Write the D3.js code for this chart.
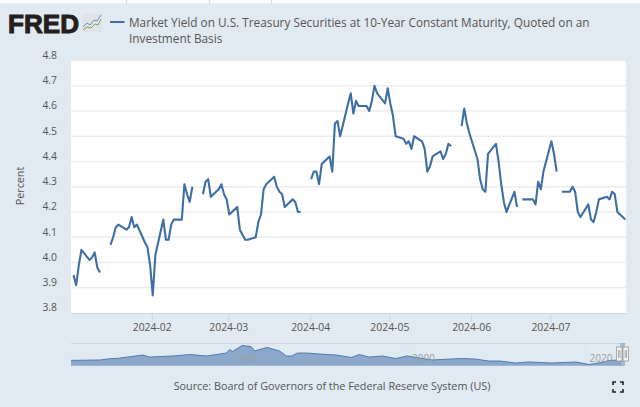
<!DOCTYPE html>
<html>
<head>
<meta charset="utf-8">
<script src="https://d3js.org/d3.v7.min.js"></script>
<style>
html, body { margin: 0; padding: 0; background: #e1e9f1; overflow: hidden; }
svg { display: block; }
text { font-family: "Open Sans", sans-serif; fill: #555; }
</style>
</head>
<body>
<svg width="640" height="407"></svg>
<script>
var seriesName = ["Market Yield on U.S. Treasury Securities at 10-Year Constant Maturity, Quoted on an", "Investment Basis"];
var sourceText = "Source: Board of Governors of the Federal Reserve System (US)";
var yTicks = [3.8, 3.9, 4.0, 4.1, 4.2, 4.3, 4.4, 4.5, 4.6, 4.7, 4.8];
var xTicks = ["2024-02-01", "2024-03-01", "2024-04-01", "2024-05-01", "2024-06-01", "2024-07-01"];

var dates = [
    "01-02","01-03","01-04","01-05","01-08","01-09","01-10","01-11","01-12","01-15","01-16","01-17","01-18","01-19",
    "01-22","01-23","01-24","01-25","01-26","01-29","01-30","01-31","02-01","02-02","02-05","02-06","02-07","02-08","02-09",
    "02-12","02-13","02-14","02-15","02-16","02-19","02-20","02-21","02-22","02-23","02-26","02-27","02-28","02-29","03-01",
    "03-04","03-05","03-06","03-07","03-08","03-11","03-12","03-13","03-14","03-15","03-18","03-19","03-20","03-21","03-22",
    "03-25","03-26","03-27","03-28","03-29","04-01","04-02","04-03","04-04","04-05","04-08","04-09","04-10","04-11","04-12",
    "04-15","04-16","04-17","04-18","04-19","04-22","04-23","04-24","04-25","04-26","04-29","04-30","05-01","05-02","05-03",
    "05-06","05-07","05-08","05-09","05-10","05-13","05-14","05-15","05-16","05-17","05-20","05-21","05-22","05-23","05-24",
    "05-27","05-28","05-29","05-30","05-31","06-03","06-04","06-05","06-06","06-07","06-10","06-11","06-12","06-13","06-14",
    "06-17","06-18","06-19","06-20","06-21","06-24","06-25","06-26","06-27","06-28","07-01","07-02","07-03","07-04","07-05",
    "07-08","07-09","07-10","07-11","07-12","07-15","07-16","07-17","07-18","07-19","07-22","07-23","07-24","07-25","07-26","07-29"
];
var yields = [
    3.95,3.91,3.99,4.05,4.01,4.02,4.04,3.98,3.96,null,4.07,4.10,4.14,4.15,
    4.13,4.14,4.18,4.14,4.15,4.08,4.06,3.99,3.87,4.03,4.17,4.09,4.09,4.15,4.17,
    4.17,4.31,4.27,4.24,4.30,null,4.27,4.32,4.33,4.26,4.29,4.31,4.27,4.25,4.19,
    4.22,4.13,4.11,4.09,4.09,4.10,4.16,4.19,4.29,4.31,4.34,4.30,4.28,4.27,4.22,
    4.25,4.24,4.20,4.20,null,4.33,4.36,4.36,4.31,4.39,4.42,4.36,4.55,4.56,4.50,
    4.63,4.67,4.59,4.64,4.62,4.62,4.60,4.64,4.70,4.67,4.63,4.69,4.63,4.58,4.50,
    4.49,4.47,4.48,4.45,4.50,4.48,4.45,4.36,4.38,4.42,4.44,4.41,4.43,4.47,4.46,
    null,4.54,4.61,4.55,4.51,4.41,4.33,4.29,4.28,4.43,4.47,4.40,4.31,4.24,4.20,
    4.28,4.22,null,4.25,4.25,4.25,4.23,4.32,4.29,4.36,4.48,4.43,4.36,null,4.28,
    4.28,4.30,4.28,4.20,4.18,4.23,4.17,4.16,4.20,4.25,4.26,4.25,4.28,4.27,4.20,4.17
];

// overview strip, long history of the same series
var navYears = [1962,1965.3,1966.4,1967.2,1970.1,1970.9,1973.5,1975.4,1977.3,1979.5,1979.9,1980.2,1981.3,1982.3,1982.7,1984.1,1985.5,1986.3,1986.9,1987.5,1988.6,1990,1991.9,1993.6,1994.5,1995.6,1997.1,1998.6,1999.9,2002.7,2006,2007.6,2009.1,2010.4,2012.1,2013.6,2016.2,2018.9,2020.4,2021.8,2022.6,2024];
var navValues = [4.6,4.9,5.9,6.1,8.6,7.1,7.9,9.0,7.9,10.1,12.8,11.3,15.8,15.0,11.7,14.3,11.7,7.9,7.9,10.1,10.1,9.4,8.6,6.8,9.0,7.1,7.9,6.0,7.9,4.9,6.0,5.6,4.1,4.1,2.6,3.4,2.6,3.4,1.5,3.0,4.5,4.9];
var navLabels = [1980, 2000, 2020];

var parse = d3.utcParse("%Y-%m-%d");
var data = dates.map(function (d, i) { return { date: parse("2024-" + d), value: yields[i] }; });
var nav = navYears.map(function (d, i) { return { year: d, value: navValues[i] }; });

var svg = d3.select("svg");
var margin = { left: 71, right: 626, top: 60.5, bottom: 313 };

// white strip at the very top of the screenshot
svg.append("rect").attr("width", 640).attr("height", 3.5).attr("fill", "#fbfcfd");
svg.selectAll(".topline")
    .data([126, 209, 271])
    .enter().append("rect")
    .attr("x", function (d) { return d; })
    .attr("width", 1).attr("height", 4)
    .attr("fill", "#d5dade");

svg.append("rect")
    .attr("x", margin.left).attr("y", margin.top)
    .attr("width", margin.right - margin.left)
    .attr("height", margin.bottom - margin.top)
    .attr("fill", "#fff");

var x = d3.scaleUtc()
    .domain([parse("2024-01-01"), parse("2024-07-29")])
    .range([70.9, 625.3]);
var y = d3.scaleLinear().domain([3.8, 4.8]).range([margin.bottom, margin.top]);

// grid
svg.append("g").selectAll("line")
    .data(yTicks.slice(1))
    .enter().append("line")
    .attr("x1", margin.left).attr("x2", margin.right)
    .attr("y1", function (d) { return y(d); })
    .attr("y2", function (d) { return y(d); })
    .attr("stroke", "#ececec").attr("stroke-width", 1.4);

svg.append("line")
    .attr("x1", margin.left).attr("x2", margin.right)
    .attr("y1", margin.bottom + 0.5).attr("y2", margin.bottom + 0.5)
    .attr("stroke", "#cbd8ea").attr("stroke-width", 1.2);

// x axis
var xAxis = svg.append("g")
    .attr("transform", "translate(-1," + margin.bottom + ")")
    .call(d3.axisBottom(x)
        .tickValues(xTicks.map(parse))
        .tickSize(9)
        .tickPadding(2)
        .tickFormat(d3.utcFormat("%Y-%m")));
xAxis.select(".domain").remove();
xAxis.selectAll("line").attr("stroke", "#cbd8ea");
xAxis.selectAll("text").attr("font-size", 10.4).attr("fill", "#555")
    .style("font-family", '"Open Sans", sans-serif');

// y axis
var yAxis = svg.append("g")
    .attr("transform", "translate(" + (margin.left - 14) + ",0)")
    .call(d3.axisLeft(y).tickValues(yTicks).tickSize(0).tickPadding(0).tickFormat(d3.format(".1f")));
yAxis.select(".domain").remove();
yAxis.selectAll("text").attr("font-size", 10.4).attr("fill", "#555").attr("dy", "-0.2em")
    .style("font-family", '"Open Sans", sans-serif');

svg.append("text")
    .attr("transform", "translate(24,186) rotate(-90)")
    .attr("text-anchor", "middle")
    .attr("font-size", 10.8)
    .text("Percent");

// series
var line = d3.line()
    .defined(function (d) { return d.value !== null; })
    .x(function (d) { return x(d.date); })
    .y(function (d) { return y(d.value); });

svg.append("path")
    .datum(data)
    .attr("d", line)
    .attr("fill", "none")
    .attr("stroke", "#3e6ea6")
    .attr("stroke-width", 2.1)
    .attr("stroke-linejoin", "round");

// header
svg.append("text")
    .attr("x", 8).attr("y", 33)
    .attr("font-size", 26.5)
    .attr("font-weight", 900)
    .attr("textLength", 71)
    .attr("lengthAdjust", "spacingAndGlyphs")
    .style("font-family", '"Liberation Sans", sans-serif')
    .style("fill", "#231f20")
    .style("stroke", "#231f20")
    .style("stroke-width", 1)
    .text("FRED");

var logo = svg.append("g").attr("transform", "translate(83,14)");
logo.append("rect").attr("width", 19).attr("height", 18).attr("fill", "#dfe3e6");
var logoBlue = [[0, 13], [4, 9], [7, 11], [11, 6], [14, 7], [18, 1]];
var logoGreen = [[0, 16], [4, 13], [8, 14], [12, 10], [15, 11], [18, 5]];
logo.append("path").attr("d", d3.line()(logoBlue)).attr("fill", "none").attr("stroke", "#6d8fb8").attr("stroke-width", 1);
logo.append("path").attr("d", d3.line()(logoGreen)).attr("fill", "none").attr("stroke", "#7da35c").attr("stroke-width", 1);

svg.append("line")
    .attr("x1", 110).attr("x2", 124.5).attr("y1", 22).attr("y2", 22)
    .attr("stroke", "#3e6ea6").attr("stroke-width", 2);

svg.selectAll(".legend")
    .data(seriesName)
    .enter().append("text")
    .attr("class", "legend")
    .attr("x", 129)
    .attr("y", function (d, i) { return 27 + i * 15.5; })
    .attr("font-size", 11.8)
    .text(function (d) { return d; });

// navigator
var navX = d3.scaleLinear().domain([1962, 2024]).range([71, 621]);
var navY = d3.scaleLinear().domain([0.6, 15.8]).range([365.7, 345.5]);

svg.append("line")
    .attr("x1", 71).attr("x2", 626).attr("y1", 343.5).attr("y2", 343.5)
    .attr("stroke", "#cfd3d8").attr("stroke-width", 1);

svg.selectAll(".navtick")
    .data(navLabels)
    .enter().append("line")
    .attr("x1", function (d) { return navX(d); })
    .attr("x2", function (d) { return navX(d); })
    .attr("y1", 344).attr("y2", 366)
    .attr("stroke", "#dce3ea").attr("stroke-width", 0.6);

svg.append("path")
    .datum(nav)
    .attr("d", d3.area()
        .x(function (d) { return navX(d.year); })
        .y0(navY(0.6))
        .y1(function (d) { return navY(d.value); }))
    .attr("fill", "#8ba8ca");

svg.append("path")
    .datum(nav)
    .attr("d", d3.line()
        .x(function (d) { return navX(d.year); })
        .y(function (d) { return navY(d.value); }))
    .attr("fill", "none")
    .attr("stroke", "#4f7cb0")
    .attr("stroke-width", 1);

svg.selectAll(".navlabel")
    .data(navLabels)
    .enter().append("text")
    .attr("class", "navlabel")
    .attr("x", function (d) { return navX(d) + 4; })
    .attr("y", 362)
    .attr("font-size", 10)
    .style("fill", "#9a9ea3")
    .text(function (d) { return d; });

svg.append("rect")
    .attr("x", 620).attr("y", 343).attr("width", 5).attr("height", 23)
    .attr("fill", "#7f9cc2").attr("opacity", 0.6);

svg.selectAll(".handle")
    .data([616.5, 623])
    .enter().append("rect")
    .attr("x", function (d) { return d; })
    .attr("y", 347).attr("width", 5.5).attr("height", 14)
    .attr("fill", "#f2f2f2").attr("stroke", "#999").attr("stroke-width", 0.8);

svg.selectAll(".grip")
    .data([618.6, 620, 625.1, 626.5])
    .enter().append("line")
    .attr("x1", function (d) { return d; })
    .attr("x2", function (d) { return d; })
    .attr("y1", 350).attr("y2", 358)
    .attr("stroke", "#999").attr("stroke-width", 0.8);

// source
svg.append("text")
    .attr("x", 332).attr("y", 390)
    .attr("text-anchor", "middle")
    .attr("font-size", 10.8)
    .text(sourceText);

// fullscreen icon
var corners = ["M613 385v-3h3", "M620 382h3v3", "M613 389v3h3", "M620 392h3v-3"];
svg.append("g").selectAll("path")
    .data(corners)
    .enter().append("path")
    .attr("d", function (d) { return d; })
    .attr("fill", "none")
    .attr("stroke", "#222")
    .attr("stroke-width", 1.6);
</script>
</body>
</html>
